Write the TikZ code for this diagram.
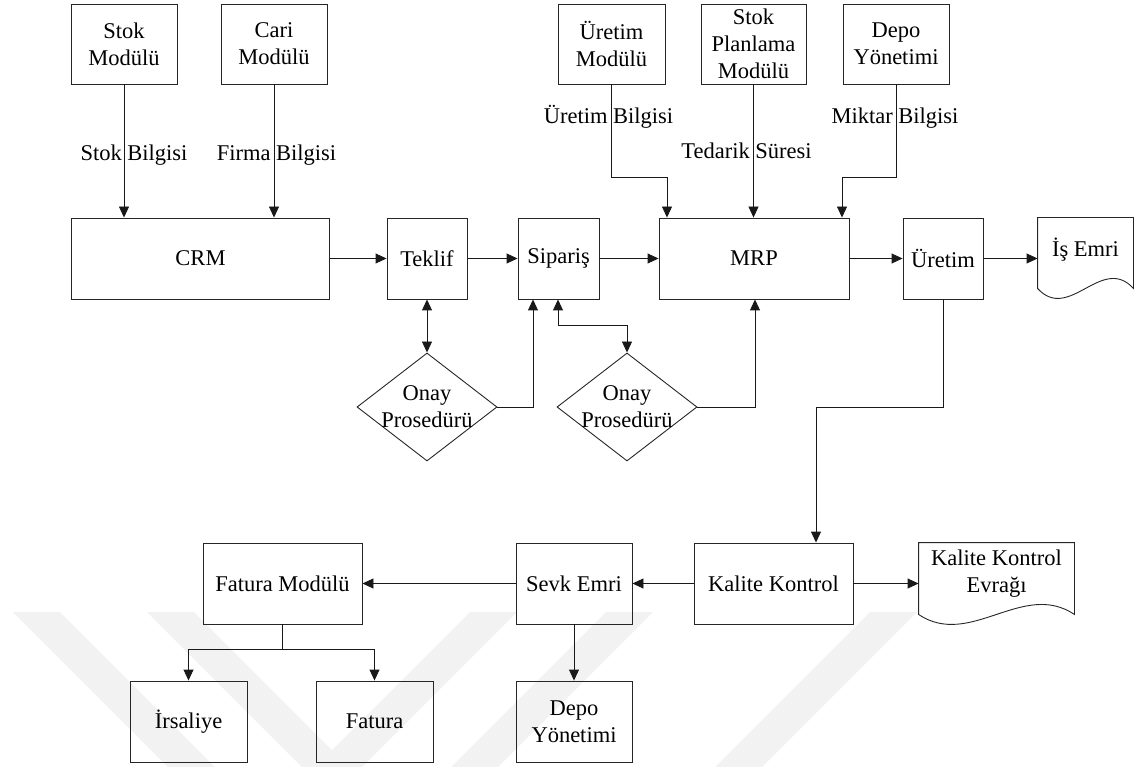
\documentclass[tikz,border=0pt]{standalone}
\usepackage{fontspec}
\setmainfont{Liberation Serif}
\usetikzlibrary{arrows.meta,shapes.geometric}

\begin{document}
\begin{tikzpicture}[x=1pt,y=-1pt,
  font=\fontsize{22.5}{27}\selectfont,
  line width=0.9pt,
  box/.style={draw=black!85, rectangle, inner sep=0pt, align=center},
  decision/.style={draw=black!85, diamond, inner sep=0pt, aspect=1.296,
    minimum width=140pt, minimum height=108pt},
  docarea/.style={rectangle, inner sep=0pt},
  doctext/.style={inner sep=0pt, align=center},
  flowlabel/.style={inner sep=0pt, anchor=base},
  arr/.style={-{Triangle[length=11pt,width=10pt]}},
  biarr/.style={{Triangle[length=11pt,width=10pt]}-{Triangle[length=11pt,width=10pt]}},
  link/.style={draw=black!90},
  stripe/.style={fill=black!5, draw=none}
]
\useasboundingbox (0,0) rectangle (1138,767);

% --- faint background stripes
\begin{scope}
\clip (0,0) rectangle (1138,767);
\fill[stripe] (13,612) -- (60,612) -- (215,767) -- (168,767) -- cycle;
\fill[stripe] (147,612) -- (194,612) -- (349,767) -- (302,767) -- cycle;
\fill[stripe] (470,612) -- (517,612) -- (362,767) -- (315,767) -- cycle;
\fill[stripe] (606,612) -- (653,612) -- (498,767) -- (451,767) -- cycle;
\fill[stripe] (870,612) -- (917,612) -- (762,767) -- (715,767) -- cycle;
\end{scope}

% --- module boxes along the top
\node[box, minimum width=106pt, minimum height=80pt] (stok)     at (124,44)   {Stok\\Modülü};
\node[box, minimum width=106pt, minimum height=80pt] (cari)     at (274,44)   {Cari\\Modülü};
\node[box, minimum width=107pt, minimum height=80pt] (uretmod)  at (611.5,44) {Üretim\\Modülü};
\node[box, minimum width=105pt, minimum height=80pt] (stokplan) at (753.5,44) {Stok\\Planlama\\Modülü};
\node[box, minimum width=106pt, minimum height=80pt] (depoust)  at (896,44)   {Depo\\Yönetimi};

% --- main process row
\node[box, minimum width=258pt, minimum height=81pt] (crm)     at (200.5,258.5) {CRM};
\node[box, minimum width=80pt,  minimum height=81pt] (teklif)  at (427,258.5)   {Teklif};
\node[box, minimum width=81pt,  minimum height=81pt] (siparis) at (558.5,258.5) {Sipariş};
\node[box, minimum width=190pt, minimum height=81pt] (mrp)     at (754,258.5)   {MRP};
\node[box, minimum width=80pt,  minimum height=81pt] (uretim)  at (943,258.5)   {Üretim};

% --- work order document (wavy lower edge)
\node[docarea, minimum width=95pt, minimum height=81pt] (isemri) at (1085.5,258.5) {};
\draw[black!85] ([yshift=11pt]isemri.south west) -- (isemri.north west) -- (isemri.north east)
  -- ([yshift=11pt]isemri.south east)
  .. controls ([xshift=-31.7pt,yshift=45.6pt]isemri.south east)
          and ([xshift=31.7pt,yshift=-23.6pt]isemri.south west)
  .. ([yshift=11pt]isemri.south west) -- cycle;
\node[doctext] (isemrit) at (1085.5,250) {İş Emri};

% --- approval procedures
\node[decision] (onay1) at (427,407) {};
\node[doctext] (onay1t) at (427,407) {Onay\\Prosedürü};
\node[decision] (onay2) at (627,407) {};
\node[doctext] (onay2t) at (627,407) {Onay\\Prosedürü};

% --- lower row
\node[box, minimum width=159pt, minimum height=81pt] (kalite) at (773.5,583.5) {Kalite Kontrol};
\node[docarea, minimum width=155pt, minimum height=81pt] (kkevrak) at (996.5,583.5) {};
\draw[black!85] ([yshift=10pt]kkevrak.south west) -- (kkevrak.north west) -- (kkevrak.north east)
  -- ([yshift=10pt]kkevrak.south east)
  .. controls ([xshift=-51.7pt,yshift=44.6pt]kkevrak.south east)
          and ([xshift=51.7pt,yshift=-24.6pt]kkevrak.south west)
  .. ([yshift=10pt]kkevrak.south west) -- cycle;
\node[doctext] (kkevrakt) at (996.5,574) {Kalite Kontrol\\Evrağı};

\node[box, minimum width=116pt, minimum height=81pt] (sevk)   at (574,583.5)   {Sevk Emri};
\node[box, minimum width=159pt, minimum height=81pt] (fatmod) at (282.5,583.5) {Fatura Modülü};
\node[box, minimum width=117pt, minimum height=81pt] (irs)    at (188.5,721.5) {İrsaliye};
\node[box, minimum width=117pt, minimum height=81pt] (fatura) at (374.5,721.5) {Fatura};
\node[box, minimum width=116pt, minimum height=81pt] (depoalt) at (574,721.5)  {Depo\\Yönetimi};

% --- bend points of the routed connectors
\coordinate (b1) at (611.5,177);
\coordinate (b2) at (667,177);
\coordinate (b3) at (896,177);
\coordinate (b4) at (842,177);
\coordinate (b5) at (533,407);
\coordinate (b6) at (558,325);
\coordinate (b7) at (627,325);
\coordinate (b8) at (755,407);
\coordinate (b9) at (943,407);
\coordinate (b10) at (816,407);
\coordinate (b11) at (282.5,649);
\coordinate (b12) at (188.5,649);
\coordinate (b13) at (374.5,649);

% --- information flows into CRM and MRP
\draw[link,arr] (stok.south) -- (stok.south |- crm.north);
\draw[link,arr] (cari.south) -- (cari.south |- crm.north);
\draw[link,arr] (uretmod.south) -- (b1) -- (b2) -- (b2 |- mrp.north);
\draw[link,arr] (stokplan.south) -- (stokplan.south |- mrp.north);
\draw[link,arr] (depoust.south) -- (b3) -- (b4) -- (b4 |- mrp.north);

\node[flowlabel] (lstok)   at (134,161)   {Stok Bilgisi};
\node[flowlabel] (lfirma)  at (276.5,161) {Firma Bilgisi};
\node[flowlabel] (luretim) at (608.5,124) {Üretim Bilgisi};
\node[flowlabel] (ltedar)  at (746.5,159) {Tedarik Süresi};
\node[flowlabel] (lmiktar) at (895,124)   {Miktar Bilgisi};

% --- main flow
\draw[link,arr] (crm.east) -- (teklif.west);
\draw[link,arr] (teklif.east) -- (siparis.west);
\draw[link,arr] (siparis.east) -- (mrp.west);
\draw[link,arr] (mrp.east) -- (uretim.west);
\draw[link,arr] (uretim.east) -- (uretim.east -| isemri.west);

% --- approval loops
\draw[link,biarr] (teklif.south) -- (onay1.north);
\draw[link,arr] (onay1.east) -- (b5) -- (b5 |- siparis.south);
\draw[link,biarr] (b6 |- siparis.south) -- (b6) -- (b7) -- (onay2.north);
\draw[link,arr] (onay2.east) -- (b8) -- (b8 |- mrp.south);

% --- production to quality control and shipping
\draw[link,arr] (uretim.south) -- (b9) -- (b10) -- (b10 |- kalite.north);
\draw[link,arr] (kalite.east) -- (kalite.east -| kkevrak.west);
\draw[link,arr] (kalite.west) -- (sevk.east);
\draw[link,arr] (sevk.west) -- (fatmod.east);
\draw[link,arr] (sevk.south) -- (depoalt.north);
\draw[link] (fatmod.south) -- (b11);
\draw[link,arr] (b12) -- (irs.north);
\draw[link,arr] (b13) -- (fatura.north);
\draw[link] (b12) -- (b13);
\end{tikzpicture}
\end{document}
